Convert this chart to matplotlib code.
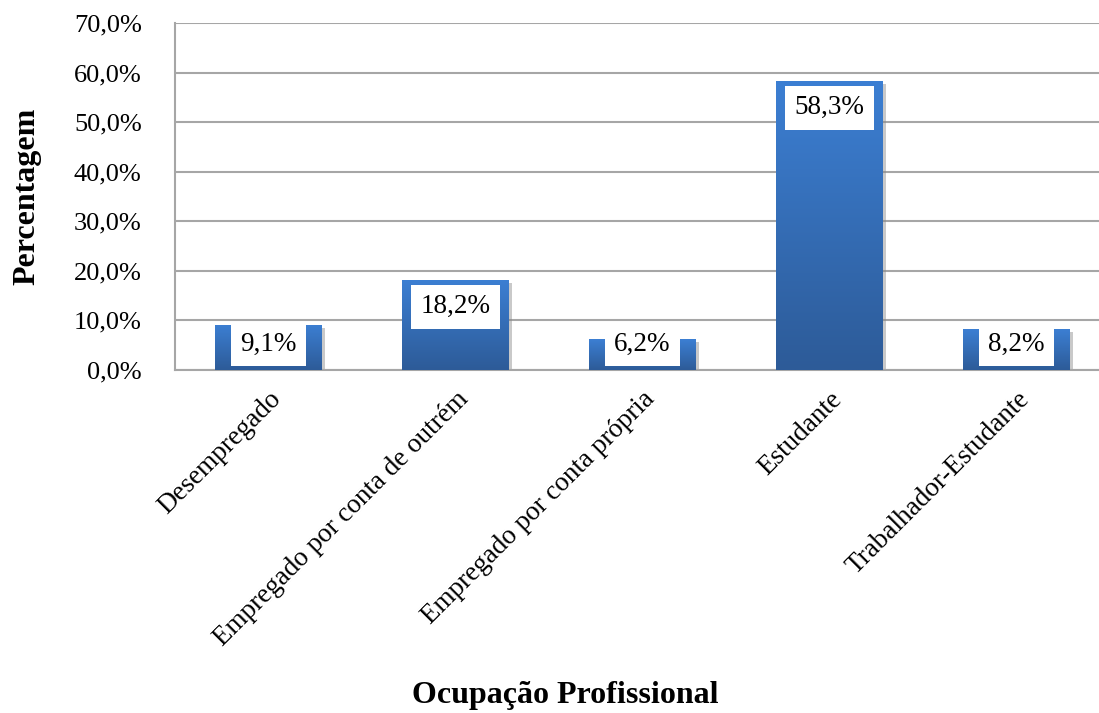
import matplotlib.pyplot as plt
import numpy as np
from matplotlib import patheffects as pe
from matplotlib.colors import LinearSegmentedColormap

categorias = ["Desempregado", "Empregado por conta de outrém", "Empregado por conta própria",
              "Estudante", "Trabalhador-Estudante"]
percentagens = [9.1, 18.2, 6.2, 58.3, 8.2]
y_ticks = [0, 10, 20, 30, 40, 50, 60, 70]

plt.rcParams['font.family'] = ['Liberation Serif', 'DejaVu Serif']

fig = plt.figure(figsize=(10.99, 7.13), dpi=100)
W, H = 1099, 713
ax = fig.add_axes([175 / W, 1 - 370 / H, 935 / W, 347 / H])

x = np.arange(len(categorias))
largura = 0.57

# gradiente vertical das barras
grad = np.linspace(0, 1, 256).reshape(-1, 1)
cmap = LinearSegmentedColormap.from_list("azul", ["#2d5b98", "#3c7fd3"])

bars = ax.bar(x, percentagens, width=largura, color="none", zorder=3)
for b in bars:
    x0, y0 = b.get_x(), b.get_y()
    w, h = b.get_width(), b.get_height()
    sombra = plt.Rectangle((x0, y0), w, h, facecolor="#2e5d9c", zorder=2.5,
                           path_effects=[pe.SimplePatchShadow(offset=(2, -2), shadow_rgbFace="#888888", alpha=0.45)])
    ax.add_patch(sombra)
    im = ax.imshow(grad, cmap=cmap, aspect="auto", extent=(x0, x0 + w, y0, y0 + h),
                   origin="lower", zorder=3)
    im.set_clip_path(b)

# rótulos dentro do topo da barra, sem descer abaixo do eixo
for xi, v in zip(x, percentagens):
    ax.text(xi, max(v - 5.4, 5.2), f"{v:.1f}%".replace(".", ","),
            ha="center", va="center", fontsize=19.5,
            bbox=dict(boxstyle="square,pad=0.35", facecolor="white", edgecolor="none"),
            zorder=5)

ax.set_xlim(-0.5, len(categorias) - 0.5)
ax.set_ylim(0, 70)
ax.set_yticks(y_ticks)
ax.set_yticklabels([f"{t:.1f}%".replace(".", ",") for t in y_ticks], fontsize=19)
ax.yaxis.grid(True, color="#a6a6a6", linewidth=1.5, zorder=0)
ax.set_axisbelow(True)
ax.tick_params(axis="y", length=0, pad=24)
ax.tick_params(axis="x", length=0, pad=12)
ax.set_xticks(x)
ax.set_xticklabels(categorias, rotation=45, ha="right", rotation_mode="anchor", fontsize=19.5)
for s in ["top", "right"]:
    ax.spines[s].set_visible(False)
ax.spines["left"].set_color("#a6a6a6")
ax.spines["left"].set_linewidth(1.5)
ax.spines["bottom"].set_color("#a6a6a6")
ax.spines["bottom"].set_linewidth(1.5)

fig.text(27 / W, 1 - 196 / H, "Percentagem", rotation=90, ha="center", va="center",
         fontsize=23, fontweight="bold")
fig.text(565 / W, 1 - 696 / H, "Ocupação Profissional", ha="center", va="center",
         fontsize=23, fontweight="bold")

fig.savefig("out.png", dpi=100)
